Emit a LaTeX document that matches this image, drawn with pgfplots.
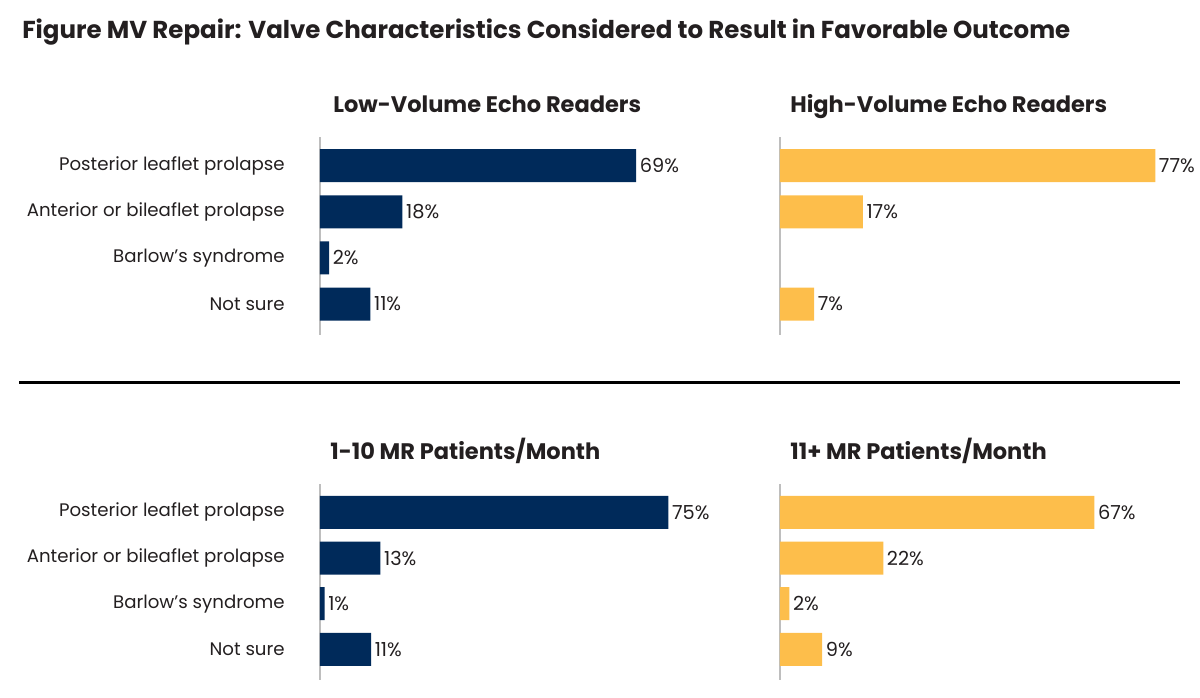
\documentclass[border=0pt]{standalone}
\usepackage{fontspec}
\setmainfont{Poppins}
\usepackage{pgfplots}
\pgfplotsset{compat=1.18}
\definecolor{navy}{RGB}{0,42,90}
\definecolor{gold}{RGB}{253,190,75}
\definecolor{txt}{RGB}{35,31,32}
\definecolor{axgray}{RGB}{190,190,190}
\newcommand{\lblfont}{\fontsize{10.9}{13}\selectfont}
\newcommand{\valfont}{\fontsize{11.6}{13}\selectfont}
\pgfplotsset{
  panel/.style={
    xbar, scale only axis,
    width=220.8pt,
    anchor=south west,
    xmin=0,
    ymin=-0.62, ymax=3.67,
    y dir=reverse,
    bar width=19.8pt,
    axis x line=none,
    axis y line*=left,
    y axis line style={draw=axgray, line width=1.3pt},
    ytick={0,1,2,3},
    major tick length=0pt,
    ytick style={draw=none},
    yticklabel style={font=\lblfont, text=txt, anchor=east, inner sep=0pt, xshift=-21pt},
    /pgf/number format/assume math mode=true,
    nodes near coords={\pgfmathprintnumber{\pgfplotspointmeta}\%},
    nodes near coords align={horizontal},
    every node near coord/.append style={font=\valfont, text=txt, inner sep=2pt},
    clip=false,
  },
  leftlabels/.style={yticklabels={Posterior leaflet prolapse, Anterior or bileaflet prolapse, Barlow’s syndrome, Not sure}},
  nolabels/.style={yticklabels={}},
}
\begin{document}
\begin{tikzpicture}[x=0.6pt, y=0.6pt]
\useasboundingbox (0,0) rectangle (1200,698);
% title
\node[anchor=base west, inner sep=0pt, text=txt, font=\fontsize{14.7}{16}\selectfont\bfseries] at (22,659) {Figure MV Repair: Valve Characteristics Considered to Result in Favorable Outcome};
% panel titles
\node[anchor=base west, inner sep=0pt, text=txt, font=\fontsize{13.5}{15}\selectfont\bfseries] at (333,585) {Low-Volume Echo Readers};
\node[anchor=base west, inner sep=0pt, text=txt, font=\fontsize{13.5}{15}\selectfont\bfseries] at (790,585) {High-Volume Echo Readers};
\node[anchor=base west, inner sep=0pt, text=txt, font=\fontsize{13.5}{15}\selectfont\bfseries] at (330,238) {1-10 MR Patients/Month};
\node[anchor=base west, inner sep=0pt, text=txt, font=\fontsize{13.5}{15}\selectfont\bfseries] at (790,238) {11+ MR Patients/Month};
% separator
\draw[line width=1.8pt, black] (19,315) -- (1180,315);

% top-left
\begin{axis}[panel, leftlabels, at={(192pt,217.8pt)}, height=118.8pt, xmax=80.3]
\addplot[fill=navy, draw=none] coordinates {(69,0) (18,1) (2,2) (11,3)};
\end{axis}
% top-right
\begin{axis}[panel, nolabels, at={(468pt,217.8pt)}, height=118.8pt, xmax=75.5]
\addplot[fill=gold, draw=none] coordinates {(77,0) (17,1) (7,3)};
\end{axis}
% bottom-left
\begin{axis}[panel, leftlabels, at={(192pt,10.8pt)}, height=117.6pt, xmax=79.2]
\addplot[fill=navy, draw=none] coordinates {(75,0) (13,1) (1,2) (11,3)};
\end{axis}
% bottom-right
\begin{axis}[panel, nolabels, at={(468pt,10.8pt)}, height=117.6pt, xmax=78.4]
\addplot[fill=gold, draw=none] coordinates {(67,0) (22,1) (2,2) (9,3)};
\end{axis}
\end{tikzpicture}
\end{document}
